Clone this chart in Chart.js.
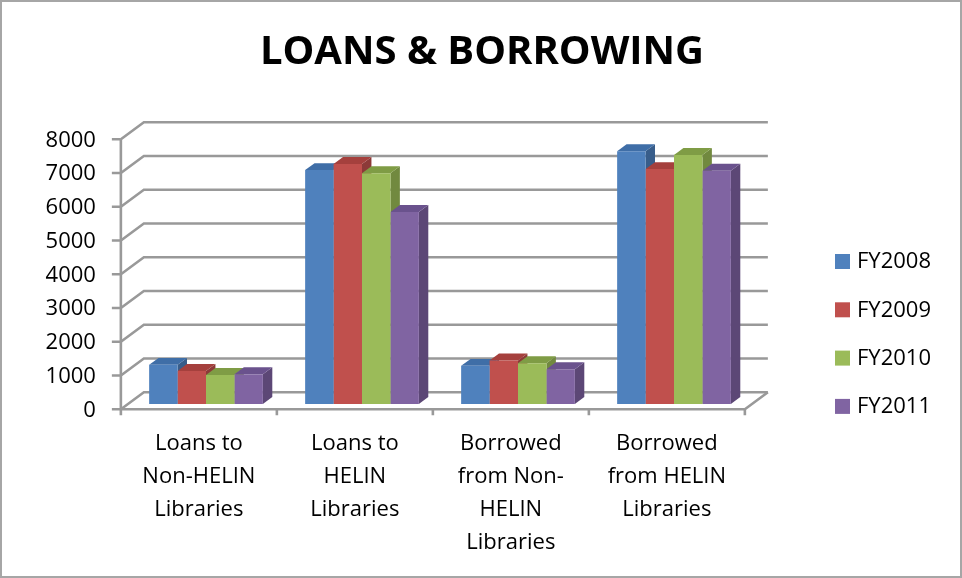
<!DOCTYPE html>
<html>
<head>
<meta charset="utf-8">
<title>Loans & Borrowing</title>
<script src="https://cdn.jsdelivr.net/npm/chart.js@4.4.1/dist/chart.umd.min.js"></script>
<style>
  html, body { margin: 0; padding: 0; background: #fff; }
  #wrap { width: 962px; height: 578px; }
</style>
</head>
<body>
<div id="wrap"><canvas id="mainChart" width="962" height="578"></canvas></div>
<script>
// --- Data ---
const categories = [
    ['Loans to', 'Non-HELIN', 'Libraries'],
    ['Loans to', 'HELIN', 'Libraries'],
    ['Borrowed', 'from Non-', 'HELIN', 'Libraries'],
    ['Borrowed', 'from HELIN', 'Libraries']
];
const seriesNames = ['FY2008', 'FY2009', 'FY2010', 'FY2011'];
const fy2008 = [1160, 6930, 1130, 7490];
const fy2009 = [980, 7110, 1290, 6960];
const fy2010 = [860, 6840, 1210, 7380];
const fy2011 = [880, 5690, 1030, 6910];
const yTicks = [0, 1000, 2000, 3000, 4000, 5000, 6000, 7000, 8000];
const chartTitle = 'LOANS & BORROWING';

// --- Colours (front / top / side) ---
const frontColors = ['#4F81BD', '#C0504D', '#9BBB59', '#8064A2'];
const topColors = ['#3F6EA7', '#A5403D', '#7F9C45', '#6A528D'];
const sideColors = ['#385D8A', '#8C3A38', '#71893F', '#5C4776'];

const FONT = '"Open Sans", "DejaVu Sans", sans-serif';

// 3D geometry: wall depth and where the bars sit inside it
const DEPTH_X = 23, DEPTH_Y = -17;
const BAR_OFFSET = 0.31;   // bars' front plane as fraction of depth
const BAR_DEPTH = 0.41;    // bars' own depth as fraction of depth

const threeD = {
    id: 'threeD',
    beforeDatasetsDraw(chart) {
        const ctx = chart.ctx;
        const area = chart.chartArea;
        const yScale = chart.scales.y;
        const xScale = chart.scales.x;
        const ox = -BAR_OFFSET * DEPTH_X, oy = -BAR_OFFSET * DEPTH_Y;
        const fl = area.left + ox, fr = area.right + ox;
        const frontY = v => yScale.getPixelForValue(v) + oy;

        ctx.save();
        // outer border
        ctx.strokeStyle = '#a6a6a6';
        ctx.lineWidth = 2;
        ctx.strokeRect(1, 1, 960, 576);

        // title
        ctx.fillStyle = '#000';
        ctx.font = 'bold 40px ' + FONT;
        ctx.textAlign = 'center';
        ctx.textBaseline = 'middle';
        ctx.fillText(chartTitle, 482, 53);

        // walls: gridlines on side wall and back wall
        ctx.strokeStyle = '#999999';
        ctx.lineWidth = 2.6;
        ctx.lineJoin = 'miter';
        yTicks.forEach(v => {
            const fy = frontY(v);
            ctx.beginPath();
            ctx.moveTo(fl, fy);
            ctx.lineTo(fl + DEPTH_X, fy + DEPTH_Y);
            ctx.lineTo(fr + DEPTH_X, fy + DEPTH_Y);
            ctx.stroke();
        });

        // floor: front edge and right edge
        const f0 = frontY(0);
        ctx.beginPath();
        ctx.moveTo(fl, f0);
        ctx.lineTo(fr, f0);
        ctx.lineTo(fr + DEPTH_X, f0 + DEPTH_Y);
        ctx.stroke();

        // vertical axis and tick marks
        const fTop = frontY(yTicks[yTicks.length - 1]);
        ctx.beginPath();
        ctx.moveTo(fl, fTop);
        ctx.lineTo(fl, f0);
        yTicks.forEach(v => {
            ctx.moveTo(fl - 9, frontY(v));
            ctx.lineTo(fl, frontY(v));
        });
        // category tick marks
        const cw = (fr - fl) / categories.length;
        for (let i = 0; i <= categories.length; i++) {
            ctx.moveTo(fl + i * cw, f0);
            ctx.lineTo(fl + i * cw, f0 + 6);
        }
        ctx.stroke();

        // y tick labels
        ctx.fillStyle = '#000';
        ctx.font = '22px ' + FONT;
        ctx.textAlign = 'right';
        ctx.textBaseline = 'middle';
        yTicks.forEach(v => ctx.fillText(String(v), fl - 25, frontY(v) + 1));

        // category labels
        ctx.textAlign = 'center';
        categories.forEach((lines, i) => {
            const cx = xScale.getPixelForValue(i) + ox;
            lines.forEach((t, j) => ctx.fillText(t, cx, 444 + j * 33));
        });

        // legend
        ctx.textAlign = 'left';
        chart.data.datasets.forEach((ds, i) => {
            const ly = 261 + i * 48.3;
            ctx.fillStyle = ds.backgroundColor;
            ctx.fillRect(835, ly - 7, 15, 15);
            ctx.fillStyle = '#000';
            ctx.fillText(ds.label, 857, ly + 1);
        });

        // bar tops and sides, painted left to right
        const bdx = BAR_DEPTH * DEPTH_X, bdy = BAR_DEPTH * DEPTH_Y;
        const bars = [];
        chart.data.datasets.forEach((ds, di) => {
            chart.getDatasetMeta(di).data.forEach(el => {
                const p = el.getProps(['x', 'y', 'width', 'base'], true);
                bars.push({ x0: p.x - p.width / 2, x1: p.x + p.width / 2, y: p.y, base: p.base, di });
            });
        });
        bars.sort((a, b) => a.x0 - b.x0);
        bars.forEach(b => {
            ctx.fillStyle = sideColors[b.di];
            ctx.beginPath();
            ctx.moveTo(b.x1, b.y);
            ctx.lineTo(b.x1 + bdx, b.y + bdy);
            ctx.lineTo(b.x1 + bdx, b.base + bdy);
            ctx.lineTo(b.x1, b.base);
            ctx.closePath();
            ctx.fill();
            ctx.fillStyle = topColors[b.di];
            ctx.beginPath();
            ctx.moveTo(b.x0, b.y);
            ctx.lineTo(b.x1, b.y);
            ctx.lineTo(b.x1 + bdx, b.y + bdy);
            ctx.lineTo(b.x0 + bdx, b.y + bdy);
            ctx.closePath();
            ctx.fill();
        });
        ctx.restore();
    }
};

const seriesData = [fy2008, fy2009, fy2010, fy2011];

new Chart(document.getElementById('mainChart').getContext('2d'), {
    type: 'bar',
    data: {
        labels: categories,
        datasets: seriesNames.map((name, i) => ({
            label: name,
            data: seriesData[i],
            backgroundColor: frontColors[i],
            borderWidth: 0,
            categoryPercentage: 0.729,
            barPercentage: 1.0
        }))
    },
    options: {
        responsive: false,
        devicePixelRatio: 1,
        animation: false,
        layout: { padding: { left: 128, right: 210, top: 134, bottom: 174 } },
        plugins: {
            legend: { display: false },
            title: { display: false },
            tooltip: { enabled: false }
        },
        scales: {
            x: { display: false },
            y: { display: false, min: 0, max: 8000 }
        }
    },
    plugins: [threeD]
});
</script>
</body>
</html>
